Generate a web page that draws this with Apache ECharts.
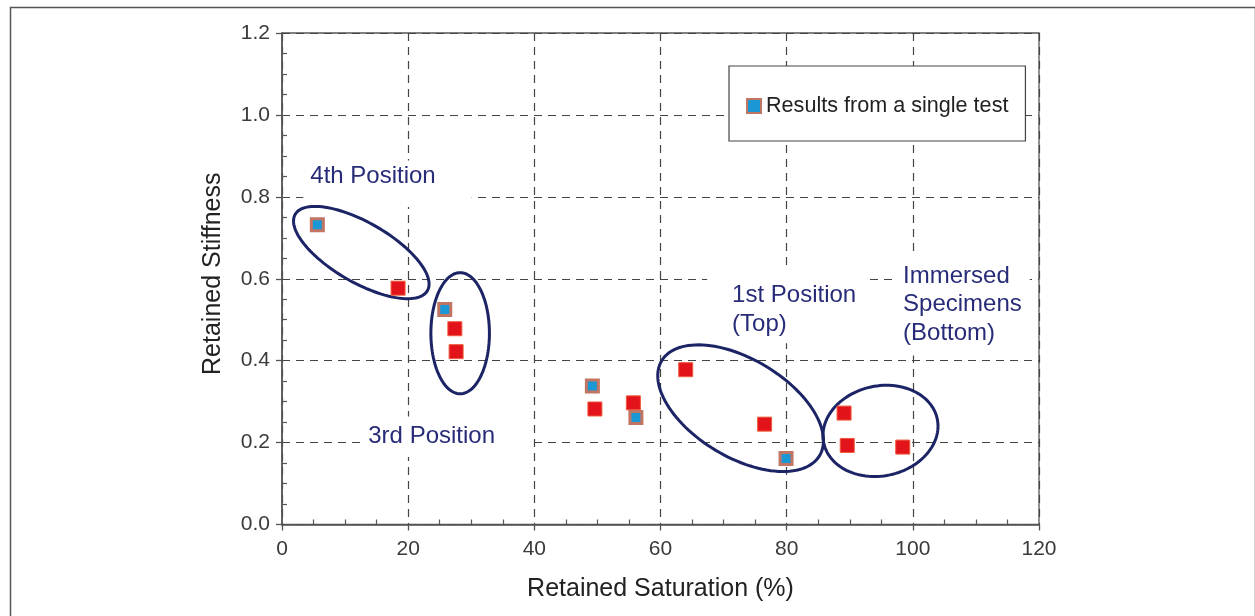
<!DOCTYPE html>
<html>
<head>
<meta charset="utf-8">
<script src="https://cdn.jsdelivr.net/npm/echarts@6/dist/echarts.min.js"></script>
<style>
  html, body { margin: 0; padding: 0; background: #fff; }
  #chart { width: 1255px; height: 616px; }
</style>
</head>
<body>
<div id="chart"></div>
<script>
// ---- data ----
var singleTestPoints = [
  [5.6, 0.732], [25.8, 0.525], [49.2, 0.338], [56.1, 0.261], [79.9, 0.161]
];
var otherPoints = [
  [18.4, 0.577], [27.4, 0.478], [27.6, 0.422], [49.6, 0.282], [55.7, 0.297],
  [64.0, 0.378], [76.5, 0.245], [89.1, 0.272], [89.6, 0.193], [98.4, 0.189]
];
var xTicks = [0, 20, 40, 60, 80, 100, 120];
var yTicks = ['0.0', '0.2', '0.4', '0.6', '0.8', '1.0', '1.2'];

// group ellipses: centre (data), semi-axes (x-axis units), tilt (deg, clockwise on screen)
var ellipseCenters = [[12.57, 0.664], [28.24, 0.467], [72.7, 0.284], [94.87, 0.2285]];
var ellipseAxes = [[12.1, 4.75], [9.6, 4.64], [14.6, 7.76], [9.2, 7.13]];
var ellipseTilt = [30, 90, 31, -12];

// annotations: top-left anchor of their white label box (data)
var annotationText = ['4th Position', '3rd Position', '1st Position\n(Top)', 'Immersed\nSpecimens\n(Bottom)'];
var annotationPos = [[3.375, 0.8887], [13.2, 0.2639], [67.39, 0.6258], [97.5, 0.6577]];

var annotationPad = [[2, 36, 16, 7], [6, 36, 6, 3], [13, 10, 5, 25], [7, 8, 8, 6]];

var FONT = '"Liberation Sans", Arial, Helvetica, sans-serif';
var chart = echarts.init(document.getElementById('chart'), null, { renderer: 'canvas' });

var ellipseData = ellipseCenters.map(function (c, i) {
  return [c[0], c[1], ellipseAxes[i][0], ellipseAxes[i][1], ellipseTilt[i]];
});
var annotationData = annotationPos.map(function (p) { return [p[0], p[1]]; });

var option = {
  backgroundColor: '#ffffff',
  animation: false,
  graphic: [{
    type: 'rect', left: 8, top: 5, z: -10, silent: true,
    shape: { width: 1245, height: 640 },
    style: { fill: 'none', stroke: '#555', lineWidth: 1.5 }
  }],
  legend: {
    data: ['Results from a single test'],
    left: 729, top: 66,
    padding: [28, 17, 23, 17],
    itemWidth: 14, itemHeight: 14,
    backgroundColor: '#fff',
    borderColor: '#444', borderWidth: 1.2,
    textStyle: { fontFamily: FONT, fontSize: 21.6, color: '#222', lineHeight: 24 },
    selectedMode: false
  },
  grid: [
    { left: 282, top: 33, width: 757, height: 491.5, show: true, borderColor: '#555', borderWidth: 1.3, backgroundColor: 'transparent' },
    { left: 282, top: 33, width: 757, height: 491.5, show: false }
  ],
  xAxis: [{
    type: 'value', gridIndex: 0, min: 0, max: 120, interval: 20,
    name: 'Retained Saturation (%)', nameLocation: 'middle', nameGap: 52,
    nameTextStyle: { fontFamily: FONT, fontSize: 25, color: '#222' },
    axisLine: { show: true, lineStyle: { color: '#555', width: 1.5 } },
    axisTick: { show: true, length: 6, lineStyle: { color: '#555', width: 1.3 } },
    axisLabel: { fontFamily: FONT, fontSize: 21, color: '#3a3a3a', margin: 14,
      formatter: function (v) { return xTicks.indexOf(v) >= 0 ? String(v) : ''; } },
    splitLine: { show: true, lineStyle: { color: '#444', width: 1.2, type: [8, 6] } }
  }, {
    type: 'value', gridIndex: 1, min: 0, max: 120, interval: 20,
    axisLine: { show: false }, axisLabel: { show: false }, splitLine: { show: false },
    axisTick: { show: false, inside: true },
    minorTick: { show: true, splitNumber: 4, length: 5, lineStyle: { color: '#555', width: 1.2 } }
  }],
  yAxis: [{
    type: 'value', gridIndex: 0, min: 0, max: 1.2, interval: 0.2,
    name: 'Retained Stiffness', nameLocation: 'middle', nameGap: 56,
    nameTextStyle: { fontFamily: FONT, fontSize: 25, color: '#222', padding: [0, 0, 0, 10] },
    axisLine: { show: true, lineStyle: { color: '#555', width: 1.5 } },
    axisTick: { show: true, length: 6, lineStyle: { color: '#555', width: 1.3 } },
    axisLabel: { fontFamily: FONT, fontSize: 21, color: '#3a3a3a', margin: 12,
      formatter: function (v) { return yTicks[Math.round(v / 0.2)]; } },
    splitLine: { show: true, lineStyle: { color: '#444', width: 1.2, type: [8, 6] } }
  }, {
    type: 'value', gridIndex: 1, min: 0, max: 1.2, interval: 0.2,
    axisLine: { show: false }, axisLabel: { show: false }, splitLine: { show: false },
    axisTick: { show: false, inside: true },
    minorTick: { show: true, splitNumber: 4, length: 5, lineStyle: { color: '#555', width: 1.2 } }
  }],
  series: [
    {
      name: 'annotations', type: 'custom', xAxisIndex: 0, yAxisIndex: 0, z: 2,
      silent: true, clip: false,
      data: annotationData,
      renderItem: function (params, api) {
        var p = api.coord([api.value(0), api.value(1)]);
        return {
          type: 'text', x: p[0], y: p[1],
          style: {
            text: annotationText[params.dataIndex],
            fill: '#282c78',
            font: '24px ' + FONT,
            align: 'left', verticalAlign: 'top',
            lineHeight: 28.5,
            backgroundColor: '#ffffff',
            padding: annotationPad[params.dataIndex]
          }
        };
      }
    },
    {
      name: 'groups', type: 'custom', xAxisIndex: 0, yAxisIndex: 0, z: 3,
      silent: true, clip: false,
      data: ellipseData,
      renderItem: function (params, api) {
        var c = api.coord([api.value(0), api.value(1)]);
        var a = api.size([api.value(2), 0])[0];
        var b = api.size([api.value(3), 0])[0];
        var th = api.value(4) * Math.PI / 180;
        var pts = [];
        for (var k = 0; k < 120; k++) {
          var t = k / 120 * Math.PI * 2;
          pts.push([
            c[0] + a * Math.cos(th) * Math.cos(t) - b * Math.sin(th) * Math.sin(t),
            c[1] + a * Math.sin(th) * Math.cos(t) + b * Math.cos(th) * Math.sin(t)
          ]);
        }
        return {
          type: 'polygon', shape: { points: pts },
          style: { fill: 'none', stroke: '#1c2466', lineWidth: 3 }
        };
      }
    },
    {
      name: 'Other results', type: 'scatter', xAxisIndex: 0, yAxisIndex: 0, z: 4,
      symbol: 'rect', symbolSize: 14,
      itemStyle: { color: '#e3131b', borderColor: '#ee5a3a', borderWidth: 1, opacity: 1 },
      data: otherPoints
    },
    {
      name: 'Results from a single test', type: 'scatter', xAxisIndex: 0, yAxisIndex: 0, z: 5,
      symbol: 'rect', symbolSize: 12,
      itemStyle: { color: '#1a98d6', borderColor: '#c27563', borderWidth: 3, opacity: 1 },
      data: singleTestPoints
    }
  ]
};
chart.setOption(option);
</script>
</body>
</html>
